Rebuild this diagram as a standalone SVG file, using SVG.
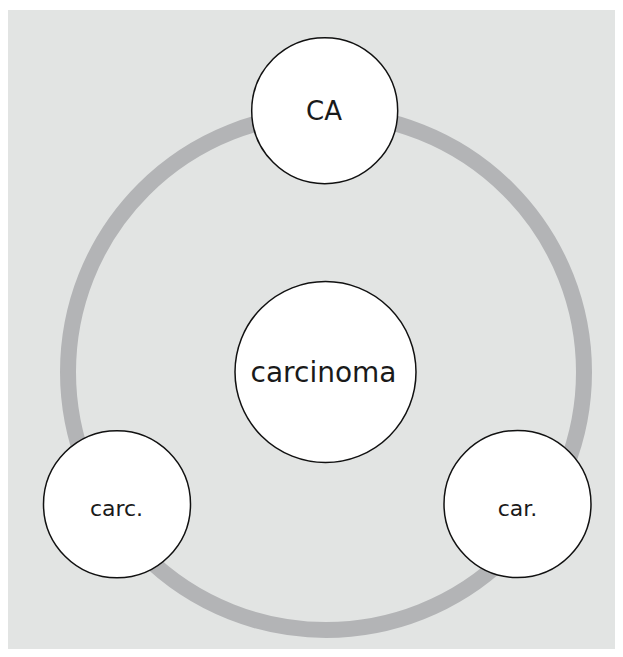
<svg xmlns="http://www.w3.org/2000/svg" width="623" height="657" viewBox="0 0 623 657">
<style>
.node circle{fill:#ffffff;stroke:#111111;stroke-width:1.5}
.node text{font-family:"DejaVu Sans","Noto Sans",sans-serif;fill:#1a1a1a;text-anchor:middle}
.ring{fill:none;stroke:#b3b4b6;stroke-width:16}
</style>
<rect x="0" y="0" width="623" height="657" fill="#ffffff"/>
<rect x="8" y="10" width="607" height="639" fill="#e2e4e3"/>
<g id="connectors">
<circle class="ring" cx="326" cy="372" r="258"/>
</g>
<g id="node-carcinoma" class="node">
<circle cx="325.5" cy="372" r="90.5"/>
<text x="323.5" y="381.5" font-size="28">carcinoma</text>
</g>
<g id="node-CA" class="node">
<circle cx="324.7" cy="110.7" r="73"/>
<text x="324" y="120" font-size="26">CA</text>
</g>
<g id="node-carc" class="node">
<circle cx="117" cy="504.3" r="73.5"/>
<text x="116.5" y="515.5" font-size="22">carc.</text>
</g>
<g id="node-car" class="node">
<circle cx="517.5" cy="504" r="73.5"/>
<text x="517.5" y="515.5" font-size="22">car.</text>
</g>
</svg>
